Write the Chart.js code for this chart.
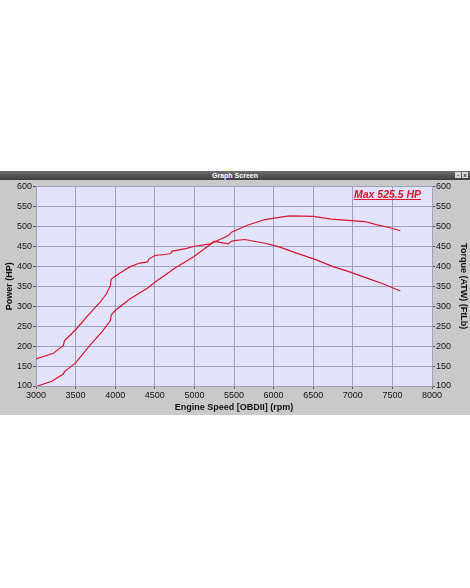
<!DOCTYPE html>
<html>
<head>
<meta charset="utf-8">
<script src="https://cdn.jsdelivr.net/npm/chart.js@4"></script>
<style>
  html, body { margin: 0; padding: 0; background: #fff; }
  body { width: 470px; height: 588px; position: relative; overflow: hidden; font-family: "Liberation Sans", Arial, sans-serif; }
  #win { position: absolute; left: 0; top: 171px; width: 470px; height: 244px; background: #c9c9c9; }
  #titlebar { height: 9px; background: linear-gradient(#6e6e6e, #3e3e3e); color: #fff; font-size: 7px; font-weight: bold; text-align: center; line-height: 9px; position: relative; }
  #btns { position: absolute; right: 2px; top: 1px; font-size: 6px; line-height: 7px; }
  #btns span { display: inline-block; width: 6px; height: 6px; background: #d8d8d8; color: #333; margin-left: 1px; text-align: center; }
  #wrap { position: absolute; left: 0; top: 9px; width: 470px; height: 235px; }
  #maxLabel { position: absolute; left: 354px; top: 188px; color: #e0102c; font-weight: bold; font-style: italic; font-size: 10.5px; text-decoration: underline; }
</style>
</head>
<body>
<div id="win">
  <div id="titlebar">Graph Screen<div id="btns"><span>-</span><span>x</span></div></div>
  <div id="wrap"><canvas id="dyno"></canvas></div>
</div>
<div id="maxLabel">Max 525.5 HP</div>
<script>
// power curve (HP)
const powerRpm = [3020, 3200, 3345, 3360, 3500, 3680, 3830, 3940, 3950, 4000, 4185, 4415, 4500, 4690, 4735, 4990, 5230, 5430, 5475, 5660, 5890, 6090, 6200, 6500, 6730, 7150, 7320, 7460, 7600];
const powerHp = [100, 112, 130, 136, 158, 202, 235, 264, 278, 289, 318, 346, 360, 386, 393, 424, 459, 477, 486, 502, 517, 523, 526, 525, 518, 512, 503, 497, 489];

// torque curve (ft-lb)
const torqueRpm = [3000, 3220, 3290, 3345, 3360, 3500, 3710, 3810, 3890, 3940, 3950, 4000, 4100, 4190, 4310, 4410, 4425, 4500, 4650, 4700, 4720, 4890, 5000, 5200, 5250, 5430, 5460, 5500, 5640, 5770, 5910, 6080, 6290, 6540, 6750, 6940, 7170, 7380, 7600];
const torqueFtlb = [168, 182, 193, 201, 214, 241, 289, 310, 331, 352, 368, 375, 388, 399, 408, 411, 418, 427, 430, 432, 438, 444, 450, 456, 462, 456, 462, 464, 467, 462, 457, 448, 433, 416, 399, 387, 371, 356, 338];

const rpmTicks = [3000, 8000, 500];
const valueTicks = [100, 600, 50];

const lineRed = '#d8142c';
const gridCol = '#a0a0c4';
const tickFont = { family: 'Liberation Sans', size: 9 };
const titleFont = { family: 'Liberation Sans', size: 9, weight: 'bold' };

const plotBg = {
    id: 'plotBg',
    beforeDraw(chart) {
        const { ctx, chartArea: a } = chart;
        ctx.save();
        ctx.fillStyle = '#e3e3fb';
        ctx.fillRect(a.left, a.top, a.right - a.left, a.bottom - a.top);
        ctx.restore();
    }
};

function toPoints(xs, ys) {
    return xs.map((x, i) => ({ x: x, y: ys[i] }));
}

const plain = v => String(v);

function yScale(pos, label, width, titlePad) {
    return {
        type: 'linear',
        position: pos,
        min: valueTicks[0],
        max: valueTicks[1],
        ticks: { stepSize: valueTicks[2], color: '#111', font: tickFont, padding: 1, callback: plain },
        grid: { color: gridCol, drawOnChartArea: pos === 'left', tickLength: 3, tickColor: '#555' },
        border: { color: gridCol },
        title: { display: true, text: label, color: '#111', font: titleFont, padding: titlePad },
        afterFit(s) { s.width = width; }
    };
}

new Chart(document.getElementById('dyno'), {
    type: 'line',
    data: {
        datasets: [
            { label: 'Power', data: toPoints(powerRpm, powerHp), yAxisID: 'y',
              borderColor: lineRed, borderWidth: 1.2, pointRadius: 0, tension: 0 },
            { label: 'Torque', data: toPoints(torqueRpm, torqueFtlb), yAxisID: 'y2',
              borderColor: lineRed, borderWidth: 1.2, pointRadius: 0, tension: 0 }
        ]
    },
    options: {
        responsive: true,
        maintainAspectRatio: false,
        animation: false,
        layout: { padding: { top: 6 } },
        plugins: { legend: { display: false }, tooltip: { enabled: false } },
        scales: {
            x: {
                type: 'linear',
                min: rpmTicks[0],
                max: rpmTicks[1],
                ticks: { stepSize: rpmTicks[2], color: '#111', font: tickFont, padding: 1, maxRotation: 0, callback: plain },
                grid: { color: gridCol, tickLength: 3, tickColor: '#555' },
                border: { color: gridCol },
                title: { display: true, text: 'Engine Speed [OBDII] (rpm)', color: '#111', font: titleFont, padding: { top: 0, bottom: 2 } },
                afterFit(s) { s.height = 29; }
            },
            y: yScale('left', 'Power (HP)', 36, { top: 4, bottom: 0 }),
            y2: yScale('right', 'Torque (ATW) (FtLb)', 38, { top: 1.5, bottom: 0 })
        }
    },
    plugins: [plotBg]
});
</script>
</body>
</html>
